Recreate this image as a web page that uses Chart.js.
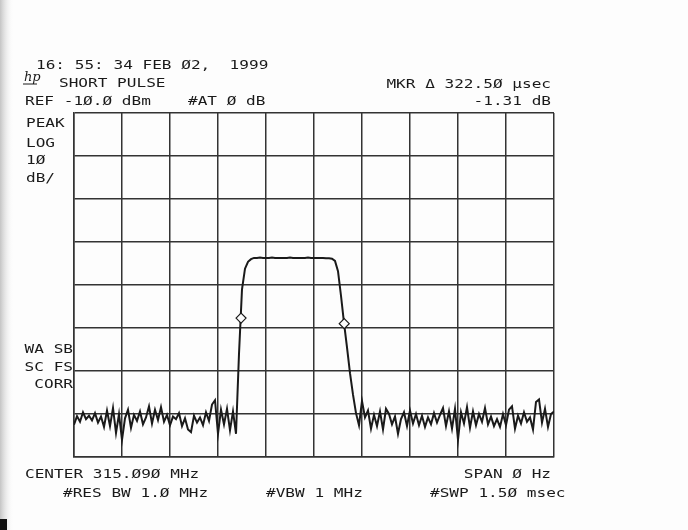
<!DOCTYPE html>
<html>
<head>
<meta charset="utf-8">
<script src="https://cdn.jsdelivr.net/npm/chart.js@4"></script>
<style>
  html, body { margin: 0; padding: 0; background: #fff; }
  #wrap { width: 688px; height: 530px; }
</style>
</head>
<body>
<div id="wrap"><canvas id="sa"></canvas></div>
<script>
// zero span, 1.50 msec sweep, REF -10 dBm, 10 dB/div
const SWEEP_MS = 1.5;
const REF_DBM = -10;
const BOTTOM_DBM = -90;

// trace, one value every 9.375 usec
const traceDbm = [
    -82.5, -80.5, -81.8, -79.6, -81.2, -80.4, -81.5, -79.8, -82.0, -80.6,
    -83.0, -79.2, -82.8, -78.6, -84.4, -80.0, -86.0, -81.0, -79.0, -83.2,
    -80.2, -81.6, -79.4, -82.4, -80.8, -78.2, -82.2, -79.0, -81.4, -78.4,
    -81.8, -80.2, -82.6, -80.6, -81.2, -79.8, -82.8, -81.0, -83.6, -84.2,
    -80.4, -82.0, -80.8, -82.6, -79.6, -81.6, -77.8, -76.8, -84.6, -79.0,
    -82.4, -78.8, -83.8, -79.4, -84.6,
    // rising edge
    -66.0, -51.0, -46.2, -44.6, -44.0,
    // pulse top
    -43.7, -43.7, -43.6, -43.7, -43.7, -43.7, -43.6, -43.7, -43.7, -43.7,
    -43.7, -43.7, -43.6, -43.7, -43.7, -43.7, -43.7, -43.7, -43.6, -43.7,
    -43.7, -43.7, -43.7, -43.7, -43.8, -43.8, -43.9,
    // falling edge
    -44.4, -46.8, -52.5, -58.8, -64.5, -70.5, -75.5, -79.8,
    // noise after the pulse
    -82.6, -77.0, -80.8, -79.2, -83.4, -80.2, -82.8, -79.4, -83.6, -78.8,
    -80.0, -82.4, -80.6, -84.6, -81.2, -79.6, -82.8, -79.2, -82.2, -80.0,
    -82.6, -80.4, -83.0, -80.8, -82.4, -79.8, -82.0, -80.2, -78.6, -82.8,
    -79.4, -83.4, -78.8, -86.0, -79.6, -82.2, -78.4, -83.2, -79.4, -82.6,
    -80.0, -81.8, -78.6, -82.4, -80.6, -82.8, -81.2, -83.0, -80.0, -82.6,
    -79.0, -78.2, -83.4, -80.4, -82.2, -79.6, -81.8, -80.8, -83.6, -77.2,
    -76.6, -82.0, -78.8, -83.0, -80.0, -79.4
];

// delta marker pair (322.50 usec, -1.31 dB)
const markerMs = [0.522, 0.8445];
const markerDbm = [-57.7, -59.0];

const headerLeft = [
    ['16: 55: 34 FEB Ø2,  1999', 36, 69],
    ['SHORT PULSE', 59, 87],
    ['REF -1Ø.Ø dBm', 25, 105],
    ['#AT Ø dB', 188, 105],
    ['PEAK', 26, 127],
    ['LOG', 26, 147],
    ['1Ø', 26, 164],
    ['dB/', 26, 182],
    ['CENTER 315.Ø9Ø MHz', 25, 478],
    ['#RES BW 1.Ø MHz', 63, 497],
    ['#VBW 1 MHz', 266, 497],
    ['#SWP 1.5Ø msec', 430, 497]
];
const headerRight = [
    ['MKR Δ 322.5Ø µsec', 551, 88],
    ['-1.31 dB', 551, 105],
    ['WA SB', 73, 353],
    ['SC FS', 73, 371],
    ['CORR', 73, 388],
    ['SPAN Ø Hz', 551, 478]
];

const INK = '#1a1a1a';
const STRETCH = 1.34;

function plotterText(ctx, text, x, y, alignRight) {
    ctx.save();
    ctx.font = '12px "DejaVu Sans Mono"';
    const w = ctx.measureText(text).width * STRETCH;
    ctx.translate(alignRight ? x - w : x, y);
    ctx.scale(STRETCH, 1);
    ctx.fillStyle = INK;
    ctx.textBaseline = 'alphabetic';
    ctx.fillText(text, 0, 0);
    ctx.restore();
}

const paperPlugin = {
    id: 'paper',
    beforeDraw(chart) {
        const ctx = chart.ctx;
        ctx.save();
        ctx.fillStyle = '#fdfdfd';
        ctx.fillRect(0, 0, chart.width, chart.height);
        const g = ctx.createLinearGradient(0, 0, 14, 0);
        g.addColorStop(0, '#c4c4c4');
        g.addColorStop(1, 'rgba(253,253,253,0)');
        ctx.fillStyle = g;
        ctx.fillRect(0, 0, 14, chart.height);
        ctx.restore();
    },
    afterDraw(chart) {
        const ctx = chart.ctx;
        headerLeft.forEach(t => plotterText(ctx, t[0], t[1], t[2], false));
        headerRight.forEach(t => plotterText(ctx, t[0], t[1], t[2], true));
        // hp logo
        ctx.save();
        ctx.font = 'italic 13px "DejaVu Serif"';
        ctx.fillStyle = INK;
        ctx.fillText('hp', 24, 81);
        ctx.strokeStyle = INK;
        ctx.lineWidth = 1;
        ctx.beginPath();
        ctx.moveTo(23, 84);
        ctx.lineTo(37, 84);
        ctx.stroke();
        ctx.restore();
        // scan mark in the corner
        ctx.fillStyle = '#111';
        ctx.fillRect(0, 519, 7, 11);
    }
};

const ctx = document.getElementById('sa').getContext('2d');
new Chart(ctx, {
    type: 'line',
    data: {
        datasets: [{
            label: 'markers',
            data: markerMs.map((t, i) => ({x: t, y: markerDbm[i]})),
            showLine: false,
            pointStyle: 'rectRot',
            pointRadius: 5,
            pointBorderWidth: 1.2,
            pointBackgroundColor: '#fdfdfd',
            pointBorderColor: INK,
        }, {
            label: 'trace',
            data: traceDbm.map((v, i) => ({x: i * SWEEP_MS / (traceDbm.length - 1), y: v})),
            borderColor: INK,
            borderWidth: 2,
            pointRadius: 0,
            tension: 0,
        }],
    },
    options: {
        responsive: true,
        maintainAspectRatio: false,
        animation: false,
        layout: {
            padding: {left: 74, right: 134, top: 113, bottom: 73},
        },
        plugins: {
            legend: {display: false},
            tooltip: {enabled: false},
        },
        scales: {
            x: {
                type: 'linear',
                min: 0,
                max: SWEEP_MS,
                ticks: {display: false, stepSize: SWEEP_MS / 10},
                grid: {color: '#333', lineWidth: 1.5, drawTicks: false},
                border: {color: '#333', width: 1.5},
            },
            y: {
                min: BOTTOM_DBM,
                max: REF_DBM,
                ticks: {display: false, stepSize: 10},
                grid: {color: '#333', lineWidth: 1.5, drawTicks: false},
                border: {color: '#333', width: 1.5},
            },
        },
    },
    plugins: [paperPlugin],
});
</script>
</body>
</html>
